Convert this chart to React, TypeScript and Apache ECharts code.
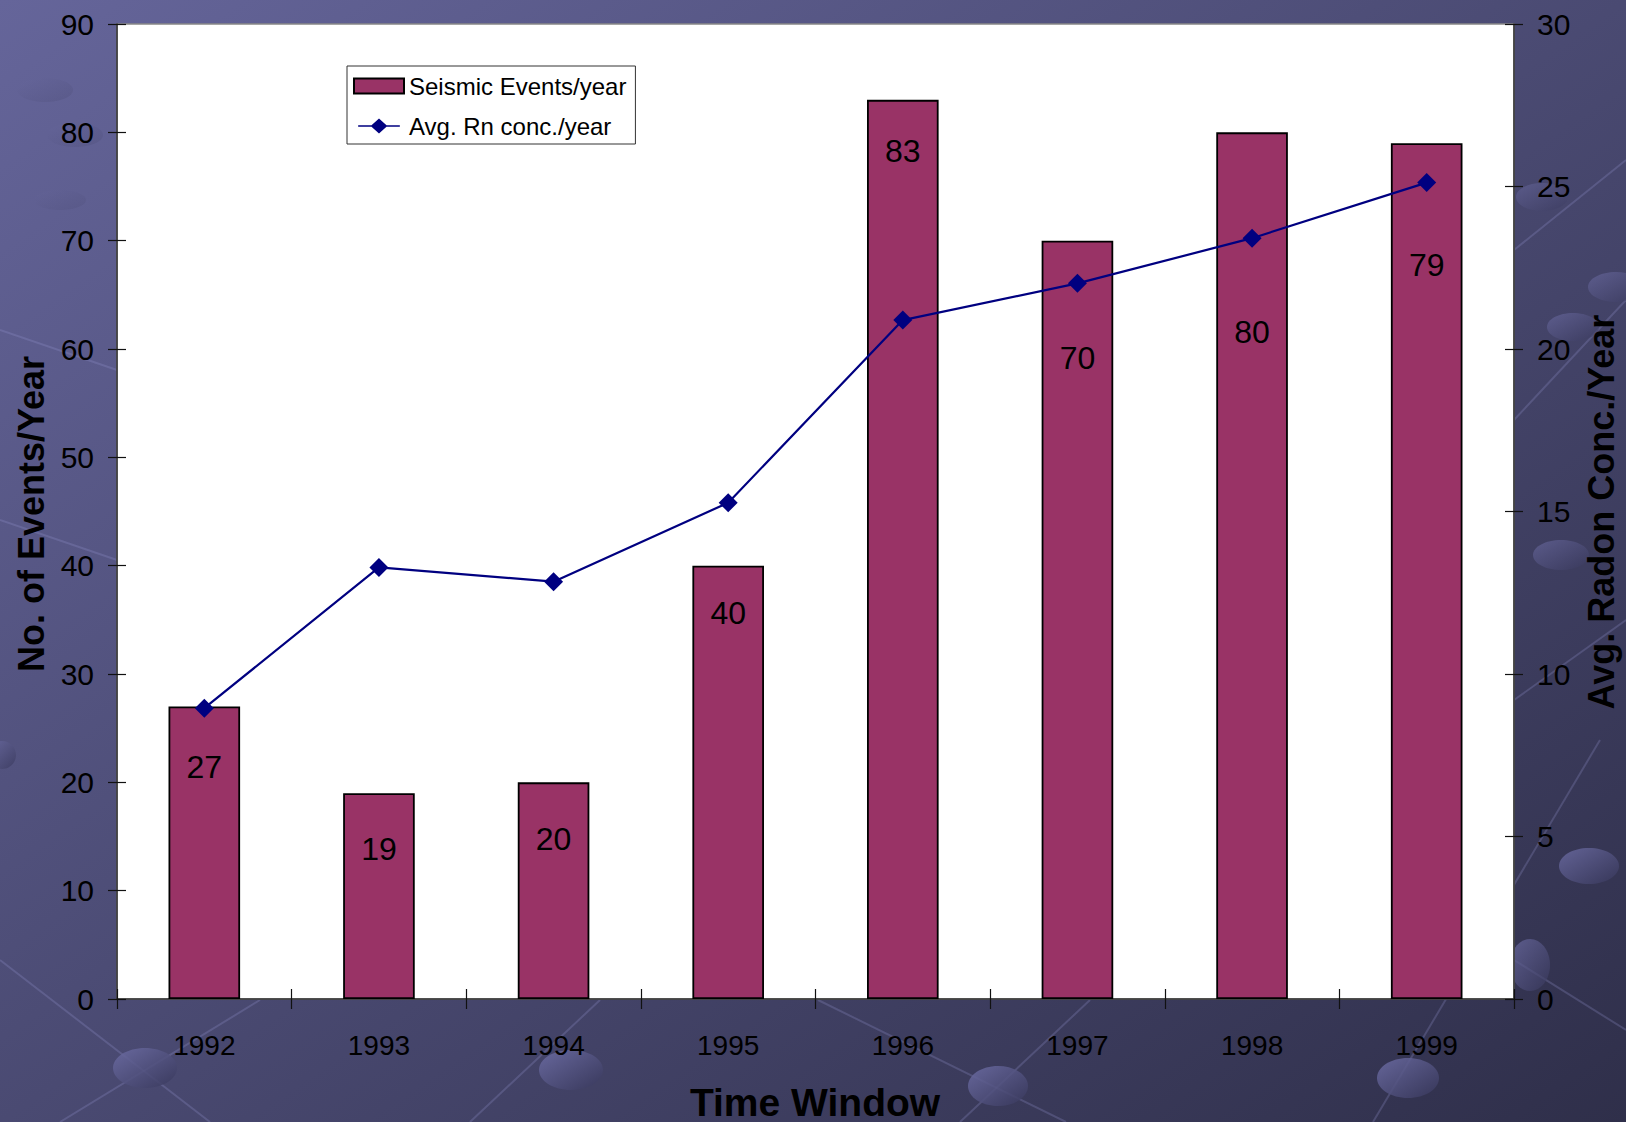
import { useEffect, useRef } from "react";
import * as echarts from "echarts";

// Yearly counts and radon averages
const years = ["1992", "1993", "1994", "1995", "1996", "1997", "1998", "1999"];
const seismicEvents = [27, 19, 20, 40, 83, 70, 80, 79];
const radonConc = [8.95, 13.28, 12.84, 15.27, 20.89, 22.02, 23.41, 25.12];

// Axis ranges
const eventsAxis = { min: 0, max: 90, interval: 10 };
const radonAxis = { min: 0, max: 30, interval: 5 };

// How far below each bar top its value label sits (px, label centre)
const labelDrop = [61, 57, 58, 48, 52, 118, 201, 123];

const FONT = "'Liberation Sans', Arial, Helvetica, sans-serif";
const W = 1626;
const H = 1122;

// Background ornaments: soft discs [cx, cy, rx, ry, alpha] and faint strokes
const discs = [
  [145, 1068, 32, 20, 0.85],
  [571, 1070, 32, 20, 0.85],
  [998, 1086, 30, 20, 0.85],
  [1408, 1078, 31, 20, 0.85],
  [1589, 866, 30, 18, 0.8],
  [1561, 555, 28, 15, 0.6],
  [1542, 197, 26, 14, 0.5],
  [1573, 327, 26, 14, 0.6],
  [1616, 287, 28, 15, 0.6],
  [1530, 965, 20, 26, 0.7],
  [2, 755, 14, 14, 0.7],
  [45, 90, 28, 12, 0.18],
  [75, 135, 28, 12, 0.18],
  [60, 200, 26, 10, 0.15],
];
const strokes = [
  [0, 960, 210, 1122],
  [60, 1122, 260, 1000],
  [470, 1122, 600, 1000],
  [818, 1000, 1066, 1122],
  [1090, 1000, 960, 1122],
  [1373, 1122, 1600, 740],
  [1514, 960, 1626, 1030],
  [1514, 250, 1626, 160],
  [1514, 420, 1626, 300],
  [1514, 700, 1626, 620],
  [0, 330, 117, 370],
  [0, 520, 117, 560],
];

// Legend glyph for the radon series: a rule with a diamond on it
const lineDiamondIcon =
  "path://M0,8 L16,8 L25,0 L34,8 L50,8 L50,10 L34,10 L25,18 L16,10 L0,10 Z";

export default function App() {
  const ref = useRef<HTMLDivElement>(null);

  useEffect(() => {
    document.body.style.margin = "0";
    document.body.style.overflow = "hidden";
    if (!ref.current) return;
    const chart = echarts.init(ref.current, undefined, { renderer: "svg" });

    const graphics: any[] = [];
    strokes.forEach(([x1, y1, x2, y2]) =>
      graphics.push({
        type: "line",
        z: -5,
        silent: true,
        shape: { x1, y1, x2, y2 },
        style: { stroke: "rgba(150,150,210,0.25)", lineWidth: 2 },
      })
    );
    discs.forEach(([cx, cy, rx, ry, a]) =>
      graphics.push({
        type: "ellipse",
        z: -4,
        silent: true,
        shape: { cx, cy, rx, ry },
        style: {
          opacity: a,
          fill: new echarts.graphic.LinearGradient(0, 0, 1, 1, [
            { offset: 0, color: "#6e6ea6" },
            { offset: 1, color: "#37375a" },
          ]),
        },
      })
    );
    const nameStyle = {
      fontFamily: FONT,
      fontWeight: "bold",
      fill: "#000",
      align: "center",
      verticalAlign: "middle",
      textAlign: "center",
      textVerticalAlign: "middle",
    };
    graphics.push(
      {
        type: "text",
        x: 31,
        y: 514,
        rotation: Math.PI / 2,
        z: 10,
        style: { ...nameStyle, text: "No. of Events/Year", fontSize: 36 },
      },
      {
        type: "text",
        x: 1601,
        y: 512,
        rotation: Math.PI / 2,
        z: 10,
        style: { ...nameStyle, text: "Avg. Radon Conc./Year", fontSize: 36 },
      },
      {
        type: "text",
        x: 815,
        y: 1102,
        z: 10,
        style: { ...nameStyle, text: "Time Window", fontSize: 39 },
      }
    );

    const axisLine = { show: true, lineStyle: { color: "#333", width: 1.5 } };
    const tickStyle = { color: "#111", width: 1.2 };
    const yLabel = { fontSize: 30, color: "#000", fontFamily: FONT, margin: 23 };

    chart.setOption({
      animation: false,
      backgroundColor: new echarts.graphic.LinearGradient(0, 0, 1, 1, [
        { offset: 0, color: "#65659a" },
        { offset: 0.5, color: "#4a4a72" },
        { offset: 1, color: "#2f2f4a" },
      ]),
      textStyle: { fontFamily: FONT },
      grid: {
        left: 117,
        right: W - 1514,
        top: 24,
        bottom: H - 999,
        show: true,
        backgroundColor: "#ffffff",
        borderColor: "#888",
        borderWidth: 1.5,
      },
      legend: {
        orient: "vertical",
        left: 347,
        top: 66,
        padding: [8, 9, 6, 6],
        itemWidth: 50,
        itemHeight: 15,
        itemGap: 16,
        backgroundColor: "#ffffff",
        borderColor: "#333",
        borderWidth: 1,
        borderRadius: 0,
        textStyle: { fontSize: 24, color: "#000", fontFamily: FONT },
        data: [
          { name: "Seismic Events/year", icon: "rect" },
          {
            name: "Avg. Rn conc./year",
            icon: lineDiamondIcon,
            itemStyle: { color: "#000080", borderWidth: 0 },
          },
        ],
      },
      graphic: { elements: graphics },
      xAxis: [
        {
          type: "category",
          data: years,
          position: "bottom",
          boundaryGap: true,
          axisLine,
          axisTick: { show: true, interval: 0, length: 10, lineStyle: tickStyle },
          axisLabel: { fontSize: 28, color: "#000", fontFamily: FONT, margin: 32 },
          splitLine: { show: false },
        },
        {
          type: "category",
          data: years,
          position: "bottom",
          boundaryGap: true,
          axisLine: { show: false },
          axisTick: { show: true, inside: true, interval: 0, length: 10, lineStyle: tickStyle },
          axisLabel: { show: false },
          splitLine: { show: false },
        },
      ],
      yAxis: [
        {
          type: "value",
          position: "left",
          ...eventsAxis,
          axisLine,
          axisTick: { show: true, length: 9, lineStyle: tickStyle },
          axisLabel: yLabel,
          splitLine: { show: false },
        },
        {
          type: "value",
          position: "right",
          ...radonAxis,
          axisLine,
          axisTick: { show: true, length: 9, lineStyle: tickStyle },
          axisLabel: yLabel,
          splitLine: { show: false },
        },
        {
          type: "value",
          position: "left",
          ...eventsAxis,
          axisLine: { show: false },
          axisTick: { show: true, inside: true, length: 9, lineStyle: tickStyle },
          axisLabel: { show: false },
          splitLine: { show: false },
        },
        {
          type: "value",
          position: "right",
          ...radonAxis,
          axisLine: { show: false },
          axisTick: { show: true, inside: true, length: 9, lineStyle: tickStyle },
          axisLabel: { show: false },
          splitLine: { show: false },
        },
      ],
      series: [
        {
          name: "Seismic Events/year",
          type: "bar",
          xAxisIndex: 0,
          yAxisIndex: 0,
          barWidth: "41%",
          itemStyle: { color: "#993366", borderColor: "#000", borderWidth: 1.8 },
          data: seismicEvents.map((v, i) => ({
            value: v,
            label: { distance: labelDrop[i] - 17 },
          })),
          label: {
            show: true,
            position: "insideTop",
            fontSize: 32,
            color: "#000",
            fontFamily: FONT,
          },
          z: 2,
        },
        {
          name: "Avg. Rn conc./year",
          type: "line",
          xAxisIndex: 0,
          yAxisIndex: 1,
          data: radonConc,
          symbol: "diamond",
          symbolSize: 19,
          color: "#000080",
          itemStyle: { color: "#000080" },
          lineStyle: { color: "#000080", width: 2.2 },
          z: 5,
        },
      ],
    });

    return () => chart.dispose();
  }, []);

  return (
    <div
      ref={ref}
      style={{ position: "absolute", left: 0, top: 0, width: W, height: H }}
    />
  );
}
